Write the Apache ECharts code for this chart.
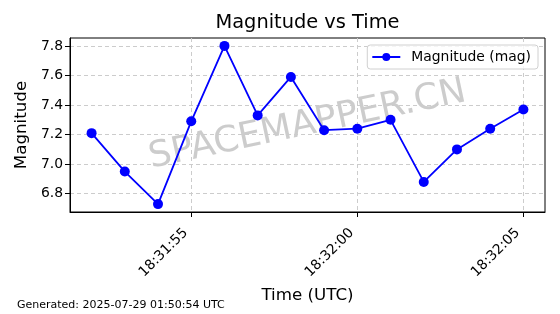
<!DOCTYPE html>
<html><head><meta charset="utf-8">
<script src="https://cdn.jsdelivr.net/npm/echarts@6/dist/echarts.min.js"></script>
<style>html,body{margin:0;padding:0;background:#fff}#c{width:560px;height:314px}</style>
</head><body><div id="c"></div>
<script>
const times = ["18:31:52","18:31:53","18:31:54","18:31:55","18:31:56","18:31:57","18:31:58","18:31:59","18:32:00","18:32:01","18:32:02","18:32:03","18:32:04","18:32:05"];
const magnitudes = [7.21, 6.95, 6.73, 7.29, 7.80, 7.33, 7.59, 7.23, 7.24, 7.30, 6.88, 7.10, 7.24, 7.37];
const xTickLabels = ["18:31:55","18:32:00","18:32:05"];
const yTickLabels = ["6.8","7.0","7.2","7.4","7.6","7.8"];

function toSec(t){const p=t.split(':').map(Number);return p[0]*3600+p[1]*60+p[2];}
function fmt(s){const h=Math.floor(s/3600),m=Math.floor((s%3600)/60),ss=Math.round(s%60);const z=n=>String(n).padStart(2,'0');return z(h)+':'+z(m)+':'+z(ss);}
const xs = times.map(toSec);
const xTicks = xTickLabels.map(toSec);
const yTicks = yTickLabels.map(Number);
const xSpan = xs[xs.length-1]-xs[0];
const yMin = Math.min(...magnitudes), yMax = Math.max(...magnitudes), ySpan = yMax-yMin;
const FONT = 'DejaVu Sans';
const chart = echarts.init(document.getElementById('c'), null, {renderer:'canvas'});
chart.setOption({
  animation:false,
  backgroundColor:'#fff',
  textStyle:{fontFamily:FONT},
  grid:{left:70, right:15, top:38, bottom:102, show:true, borderColor:'#000', borderWidth:1, backgroundColor:'transparent'},
  legend:{right:22, top:45, orient:'horizontal', itemWidth:28, itemHeight:10, itemGap:8,
    padding:[5,7,5,4], borderColor:'#d0d0d0', borderWidth:1, borderRadius:3, backgroundColor:'rgba(255,255,255,0.8)',
    textStyle:{fontFamily:FONT, fontSize:13.9, color:'#000', padding:[0,0,0,6]}},
  graphic:[
    {type:'text', x:307.5, y:23, silent:true, z:10,
     style:{text:'Magnitude vs Time', fontFamily:FONT, fontSize:19.4, fill:'#000', textAlign:'center', textVerticalAlign:'middle'}},
    {type:'text', x:307.5, y:125, rotation:12*Math.PI/180, z:0, silent:true,
     style:{text:'SPACEMAPPER.CN', fontFamily:FONT, fontSize:36, fill:'rgba(128,128,128,0.4)', textAlign:'center', textVerticalAlign:'middle'}}
  ],
  xAxis:{type:'value', min:xs[0]-0.05*xSpan, max:xs[xs.length-1]+0.05*xSpan,
    name:'Time (UTC)', nameLocation:'middle', nameGap:70,
    nameTextStyle:{fontFamily:FONT, fontSize:16.7, color:'#000'},
    axisLine:{show:true, lineStyle:{color:'#000', width:1}},
    axisTick:{show:true, length:5, customValues:xTicks, lineStyle:{color:'#000'}},
    axisLabel:{customValues:xTicks, rotate:45, margin:13, padding:[0,8,0,0], fontFamily:FONT, fontSize:13.9, color:'#000', formatter:v=>fmt(v)},
    splitLine:{show:true, lineStyle:{color:'#cccccc', type:[4,3], width:1}}},
  yAxis:{type:'value', min:yMin-0.05*ySpan, max:yMax+0.05*ySpan,
    name:'Magnitude', nameLocation:'middle', nameGap:34,
    nameTextStyle:{fontFamily:FONT, fontSize:16.7, color:'#000'},
    axisLine:{show:true, lineStyle:{color:'#000', width:1}},
    axisTick:{show:true, length:5, customValues:yTicks, lineStyle:{color:'#000'}},
    axisLabel:{customValues:yTicks, margin:7, fontFamily:FONT, fontSize:13.9, color:'#000', formatter:v=>v.toFixed(1)},
    splitLine:{show:true, lineStyle:{color:'#cccccc', type:[4,3], width:1}}},
  series:[{name:'Magnitude (mag)', type:'line', data:xs.map((x,i)=>[x,magnitudes[i]]),
    color:'#0000ff', symbol:'circle', symbolSize:10, showSymbol:true,
    lineStyle:{color:'#0000ff', width:1.8}, itemStyle:{color:'#0000ff'}, z:5}]
});
</script>
<div style="position:absolute;left:17px;top:298px;font-family:'DejaVu Sans';font-size:11px;color:#000">Generated: 2025-07-29 01:50:54 UTC</div>
</body></html>
